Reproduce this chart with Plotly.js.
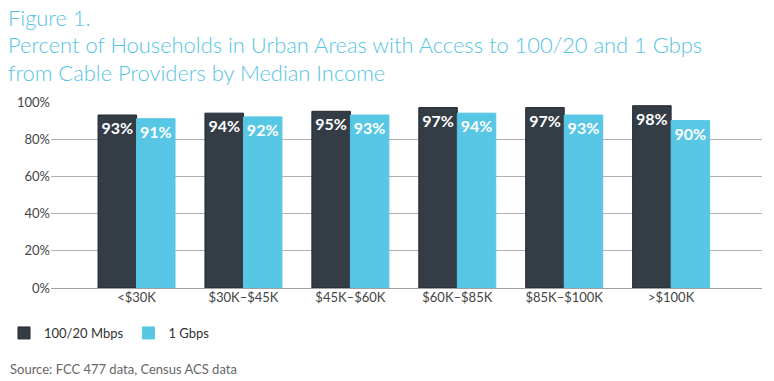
<!DOCTYPE html>
<html><head><meta charset="utf-8">
<script src="https://cdn.plot.ly/plotly-3.0.1.min.js"></script>
<style>body{margin:0;background:#fff}#c{width:774px;height:381px}</style>
</head><body><div id="c"></div>
<script>
const categories = ['<$30K', '$30K–$45K', '$45K–$60K', '$60K–$85K', '$85K–$100K', '>$100K'];
const mbps100 = [93, 94, 95, 97, 97, 98];
const gbps1 = [91, 92, 93, 94, 93, 90];
const seriesNames = ['100/20 Mbps', '1 Gbps'];
const yTicks = [0, 20, 40, 60, 80, 100];

const F = 'Lato, "Noto Sans", sans-serif';
function tr(name, vals, color, line) {
  return {
    type: 'bar', name: name, x: categories, y: vals,
    marker: {color: color, line: {color: line, width: 1}},
    text: vals.map(v => v + '%'), textposition: 'inside', insidetextanchor: 'end',
    textfont: {family: F, size: 16, color: '#ffffff', weight: 'bold'},
    constraintext: 'none', textangle: 0, hoverinfo: 'none'
  };
}
const data = [tr(seriesNames[0], mbps100, '#343c46', '#23282f'), tr(seriesNames[1], gbps1, '#58c6e5', '#58c6e5')];
const titleFont = {size: 21.9, color: '#56c4e3', family: F, weight: 300};
const layout = {
  width: 774, height: 381, paper_bgcolor: '#fff', plot_bgcolor: '#fff',
  margin: {l: 51, r: 12, t: 102, b: 93, autoexpand: false},
  barmode: 'group', bargap: 0.28, bargroupgap: 0,
  font: {family: F, color: '#444'},
  xaxis: {range: [-0.8, 5.85], tickfont: {size: 13, color: '#444'}, showline: false, ticks: '', fixedrange: true, automargin: false},
  yaxis: {range: [0, 100], tickvals: yTicks, ticktext: yTicks.map(v => v + '%'), gridcolor: '#b0b0b0', gridwidth: 1, automargin: false,
          zeroline: true, zerolinecolor: '#a0a0a0', tickfont: {size: 13, color: '#444'}, ticklen: 0, ticks: '', fixedrange: true},
  showlegend: true,
  legend: {orientation: 'h', xref: 'container', yref: 'container', x: 4/774, xanchor: 'left', y: 1 - 333/381, yanchor: 'middle', font: {size: 13, color: '#333'}, itemwidth: 30, tracegroupgap: 0},
  annotations: [
    {text: 'Figure 1.', xref: 'paper', yref: 'paper', x: -0.063, y: (381-17-93)/186, xanchor: 'left', yanchor: 'middle', showarrow: false, font: titleFont},
    {text: 'Percent of Households in Urban Areas with Access to 100/20 and 1 Gbps<br>from Cable Providers by Median Income', align: 'left', xref: 'paper', yref: 'paper', x: -0.063, y: (381-58-93)/186, xanchor: 'left', yanchor: 'middle', showarrow: false, font: titleFont},
    {text: 'Source: FCC 477 data, Census ACS data', xref: 'paper', yref: 'paper', x: -0.061, y: (381-369-93)/186, xanchor: 'left', yanchor: 'middle', showarrow: false, font: {size: 13, color: '#666', family: F}}
  ]
};
Plotly.newPlot('c', data, layout, {displayModeBar: false, staticPlot: true});
</script></body></html>
